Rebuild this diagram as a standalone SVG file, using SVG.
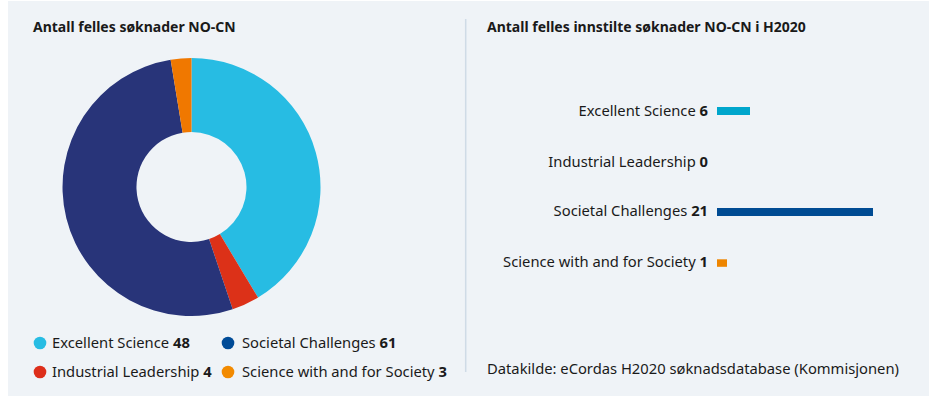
<svg xmlns="http://www.w3.org/2000/svg" width="931" height="396" viewBox="0 0 931 396">
<style>
  text { font-family: "Noto Sans", sans-serif; fill: #1a1a1a; }
  .title { font-size: 14px; font-weight: bold; }
  .lbl { font-size: 14.75px; }
  .b { font-weight: bold; }
  .r { text-anchor: end; }
</style>
<rect x="0" y="0" width="931" height="396" fill="#ffffff"/>
<rect id="panel" x="8" y="1" width="921" height="395" fill="#eff3f7"/>
<line id="divider" x1="465.7" y1="19" x2="465.7" y2="372" stroke="#cfdbe6" stroke-width="1.5"/>

<g id="left-chart">
  <text class="title" x="33" y="31.5">Antall felles søknader NO-CN</text>
  <g id="donut">
    <path id="slice-excellent" fill="#27bce3" d="M191.5,58 A129,129 0 0 1 258.03,297.53 L219.86,234.12 A55,55 0 0 0 191.5,132 Z"/>
    <path id="slice-industrial" fill="#dc3118" d="M258.03,297.53 A129,129 0 0 1 232.69,309.25 L209.06,239.12 A55,55 0 0 0 219.86,234.12 Z"/>
    <path id="slice-societal" fill="#283479" d="M232.69,309.25 A129,129 0 1 1 170.63,59.70 L182.60,132.73 A55,55 0 1 0 209.06,239.12 Z"/>
    <path id="slice-science" fill="#f07800" d="M170.63,59.70 A129,129 0 0 1 191.5,58 L191.5,132 A55,55 0 0 0 182.60,132.73 Z"/>
  </g>
  <g id="legend-excellent">
    <circle cx="40" cy="343" r="6.3" fill="#27bce3"/>
    <text class="lbl" x="52" y="348.3">Excellent Science <tspan class="b">48</tspan></text>
  </g>
  <g id="legend-societal">
    <circle cx="228" cy="343" r="6.3" fill="#004b97"/>
    <text class="lbl" x="242" y="348.3">Societal Challenges <tspan class="b">61</tspan></text>
  </g>
  <g id="legend-industrial">
    <circle cx="40" cy="372" r="6.3" fill="#dd2e1a"/>
    <text class="lbl" x="52" y="376.5">Industrial Leadership <tspan class="b">4</tspan></text>
  </g>
  <g id="legend-science">
    <circle cx="228" cy="372" r="6.3" fill="#f28a00"/>
    <text class="lbl" x="242" y="376.5">Science with and for Society <tspan class="b">3</tspan></text>
  </g>
</g>

<g id="right-chart">
  <text class="title" x="487" y="31.5">Antall felles innstilte søknader NO-CN i H2020</text>
  <g id="bar-excellent">
    <text class="lbl r" x="708" y="116">Excellent Science <tspan class="b">6</tspan></text>
    <rect x="717" y="107" width="33" height="8" fill="#00a6cc"/>
  </g>
  <g id="bar-industrial">
    <text class="lbl r" x="708" y="166.7">Industrial Leadership <tspan class="b">0</tspan></text>
  </g>
  <g id="bar-societal">
    <text class="lbl r" x="708" y="216">Societal Challenges <tspan class="b">21</tspan></text>
    <rect x="717" y="208" width="156" height="8" fill="#004b93"/>
  </g>
  <g id="bar-science">
    <text class="lbl r" x="708" y="267">Science with and for Society <tspan class="b">1</tspan></text>
    <rect x="717" y="259.3" width="10" height="7.5" fill="#ee8500"/>
  </g>
  <text id="source" class="lbl" x="487" y="374">Datakilde: eCordas H2020 søknadsdatabase (Kommisjonen)</text>
</g>
</svg>
